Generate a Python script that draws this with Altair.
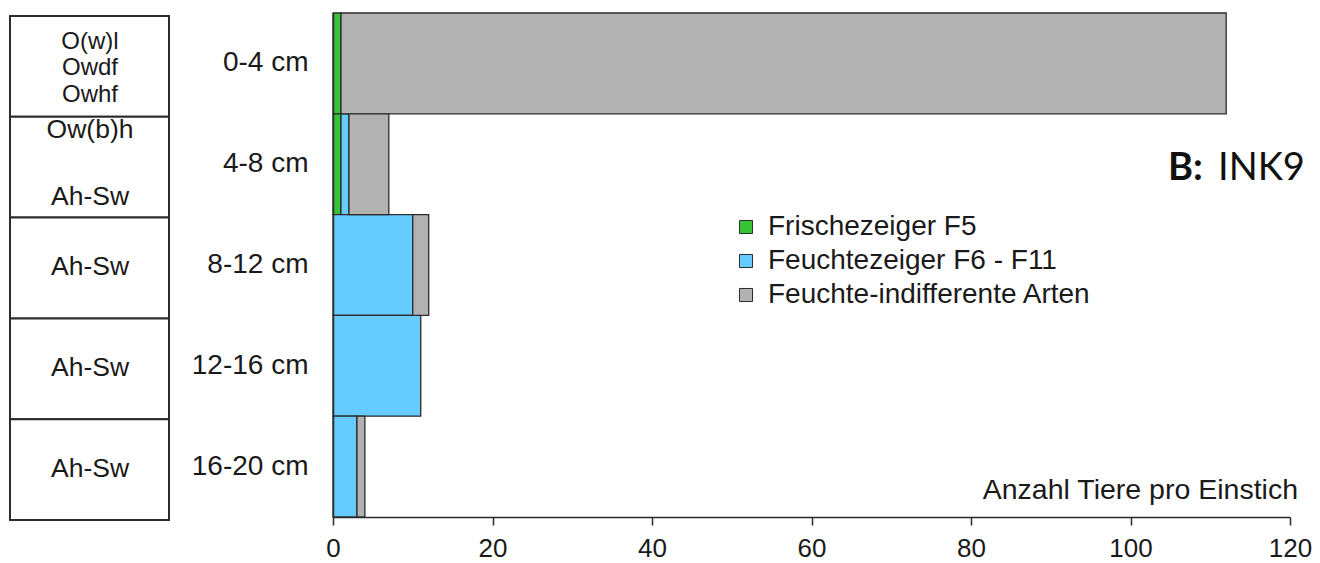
import altair as alt
import pandas as pd

# ---------------- data ----------------
depths = ["0-4 cm", "4-8 cm", "8-12 cm", "12-16 cm", "16-20 cm"]
horizons = [["O(w)l", "Owdf", "Owhf"], ["Ow(b)h", "Ah-Sw"], ["Ah-Sw"], ["Ah-Sw"], ["Ah-Sw"]]
categories = ["Frischezeiger F5", "Feuchtezeiger F6 - F11", "Feuchte-indifferente Arten"]
frische = [1, 1, 0, 0, 0]
feuchte = [0, 1, 10, 11, 3]
indifferent = [111, 5, 2, 0, 1]
colors = ["#36c436", "#66ccff", "#b2b2b2"]
x_ticks = [0, 20, 40, 60, 80, 100, 120]
x_title = "Anzahl Tiere pro Einstich"
panel_bold = "B:"
panel_name = "INK9"

FONT = "Liberation Sans"
TXT = "#1a1a1a"
LINE = "#2b2b2b"

rows = []
for series_idx, (cat, vals) in enumerate(zip(categories, [frische, feuchte, indifferent])):
    for d, v in zip(depths, vals):
        rows.append({"depth": d, "category": cat, "value": v, "order": series_idx})
bars_df = pd.DataFrame(rows)

table_df = pd.DataFrame({"depth": depths, "horizon": horizons, "idx": list(range(len(depths)))})

y_enc = alt.Y(
    "depth:N",
    sort=depths,
    scale=alt.Scale(domain=depths, paddingInner=0, paddingOuter=0),
    axis=alt.Axis(
        title=None, ticks=False, tickSize=0, domain=True, domainColor=LINE, domainWidth=1.5,
        labelFont=FONT, labelFontSize=28, labelColor=TXT, labelPadding=25, labelAlign="right",
    ),
)

bars = (
    alt.Chart(bars_df)
    .transform_filter("datum.value > 0")
    .mark_bar(stroke=LINE, strokeWidth=1.3)
    .encode(
        x=alt.X(
            "sum(value):Q",
            stack="zero",
            scale=alt.Scale(domain=[0, 120], nice=False, zero=True),
            axis=alt.Axis(
                values=x_ticks, title=None, grid=False, domainColor=LINE, domainWidth=1.5,
                tickColor=LINE, tickWidth=1.5, tickSize=8, labelFont=FONT, labelFontSize=26,
                labelColor=TXT, labelPadding=10, labelFlush=False,
            ),
        ),
        y=y_enc,
        color=alt.Color(
            "category:N",
            scale=alt.Scale(domain=categories, range=colors),
            sort=categories,
            legend=alt.Legend(
                orient="none", legendX=399, legendY=200, title=None,
                symbolType="square", symbolSize=170, symbolStrokeColor=LINE,
                symbolStrokeWidth=1, symbolOpacity=1, labelFont=FONT, labelFontSize=28,
                labelColor=TXT, rowPadding=6, labelOffset=8, padding=0, labelLimit=800,
            ),
        ),
        order=alt.Order("order:Q", sort="ascending"),
    )
)

table_rect = (
    alt.Chart(table_df)
    .mark_rect(fill="white", stroke=LINE, strokeWidth=2)
    .encode(
        y=alt.Y("depth:N", sort=depths),
        x=alt.value(-323),
        x2=alt.value(-164),
        yOffset=alt.value(3),
    )
)

table_text_0 = (
    alt.Chart(table_df)
    .transform_filter("datum.idx == 0")
    .mark_text(font=FONT, fontSize=24, color=TXT, lineHeight=26.5,
               align="center", baseline="middle", dy=-21.5)
    .encode(y=alt.Y("depth:N", sort=depths), x=alt.value(-243), text="horizon")
)

table_text_1 = (
    alt.Chart(table_df)
    .transform_filter("datum.idx == 1")
    .mark_text(font=FONT, fontSize=26.5, color=TXT, lineHeight=67,
               align="center", baseline="middle", dy=-34.5)
    .encode(y=alt.Y("depth:N", sort=depths), x=alt.value(-243), text="horizon")
)

table_text_rest = (
    alt.Chart(table_df)
    .transform_filter("datum.idx > 1")
    .mark_text(font=FONT, fontSize=26.5, color=TXT, align="center", baseline="middle", dy=2)
    .encode(y=alt.Y("depth:N", sort=depths), x=alt.value(-243), text="horizon")
)

title_df = pd.DataFrame({"label": [x_title]})
x_title_text = (
    alt.Chart(title_df)
    .mark_text(font=FONT, fontSize=28.5, color=TXT, align="right", baseline="alphabetic")
    .encode(x=alt.value(965), y=alt.value(486), text="label:N")
)

panel_df = pd.DataFrame({"bold": [panel_bold], "name": [panel_name]})
panel_b = (
    alt.Chart(panel_df)
    .mark_text(font="Lato", fontSize=38, fontWeight="bold", color="#111111",
               align="left", baseline="alphabetic")
    .encode(x=alt.value(835), y=alt.value(167), text="bold:N")
)
panel_n = (
    alt.Chart(panel_df)
    .mark_text(font="Lato", fontSize=38, color="#111111", align="left", baseline="alphabetic")
    .encode(x=alt.value(885), y=alt.value(167), text="name:N")
)

chart = (
    alt.layer(table_rect, table_text_0, table_text_1, table_text_rest, bars,
              x_title_text, panel_b, panel_n)
    .properties(
        width=957,
        height=504,
        autosize=alt.AutoSizeParams(type="none"),
        padding={"left": 325, "top": 5, "right": 22, "bottom": 46},
        background="white",
    )
    .configure_view(stroke=None)
)

chart.save("out.html", embed_options={"renderer": "svg", "actions": False})
